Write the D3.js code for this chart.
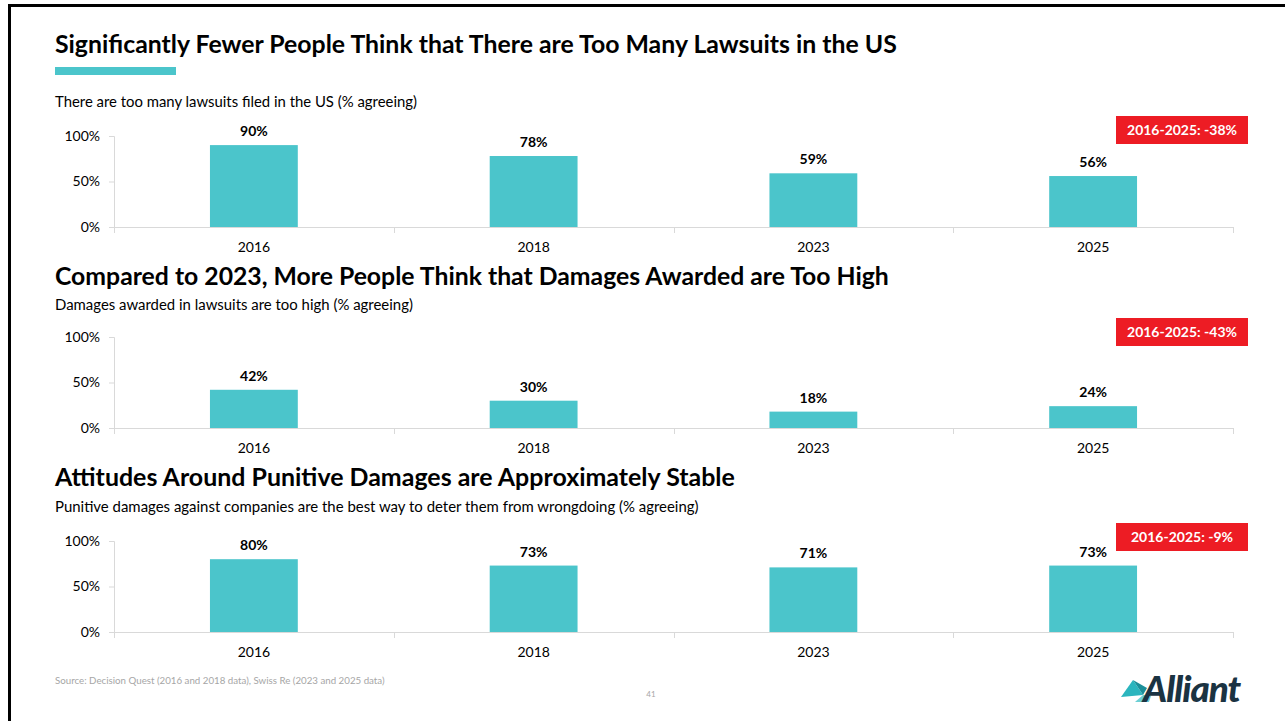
<!DOCTYPE html>
<html>
<head>
<meta charset="utf-8">
<script src="https://cdn.jsdelivr.net/npm/d3@7"></script>
<style>
  html, body { margin: 0; padding: 0; background: #fff; }
  svg { display: block; font-family: Lato, "Open Sans", sans-serif; }
</style>
</head>
<body>
<svg id="chart" width="1285" height="721"></svg>
<script>
// ---- data ----
const years = ["2016", "2018", "2023", "2025"];
const lawsuitsTooMany = [90, 78, 59, 56];
const damagesTooHigh = [42, 30, 18, 24];
const punitiveDeter = [80, 73, 71, 73];
const yTickValues = [0, 50, 100];
const titles = [
  "Significantly Fewer People Think that There are Too Many Lawsuits in the US",
  "Compared to 2023, More People Think that Damages Awarded are Too High",
  "Attitudes Around Punitive Damages are Approximately Stable"
];
const subtitles = [
  "There are too many lawsuits filed in the US (% agreeing)",
  "Damages awarded in lawsuits are too high (% agreeing)",
  "Punitive damages against companies are the best way to deter them from wrongdoing (% agreeing)"
];
const changeLabels = ["2016-2025: -38%", "2016-2025: -43%", "2016-2025: -9%"];
const sourceNote = "Source: Decision Quest (2016 and 2018 data), Swiss Re (2023 and 2025 data)";
const pageNumber = "41";

// ---- layout ----
const TEAL = "#4BC5CB";
const RED = "#ED1C24";
const AXIS = "#D9D9D9";
const svg = d3.select("#chart");

function fitText(sel, target) {
  const n = sel.node();
  const fs = parseFloat(sel.attr("font-size"));
  const w = n.getComputedTextLength();
  if (w > 0) sel.attr("font-size", (fs * target / w).toFixed(2));
}

// frame
svg.append("path").attr("d", "M9.5,725 L9.5,5.5 L1290,5.5")
  .attr("fill", "none").attr("stroke", "#000").attr("stroke-width", 3);

const panels = [
  { data: lawsuitsTooMany, titleY: 53, titleW: 842, rule: true, subY: 107, subW: 362, y0: 227, y100: 136, badgeY: 116, badgeW: 110 },
  { data: damagesTooHigh, titleY: 285, titleW: 834, rule: false, subY: 310, subW: 358, y0: 428, y100: 337, badgeY: 318, badgeW: 110 },
  { data: punitiveDeter, titleY: 486, titleW: 680, rule: false, subY: 512, subW: 644, y0: 632, y100: 541, badgeY: 523, badgeW: 102 }
];

const x = d3.scaleBand().domain(years).range([114, 1233]).paddingInner(0.686).paddingOuter(0.343);

panels.forEach((p, i) => {
  const g = svg.append("g");
  const t = g.append("text").attr("x", 55).attr("y", p.titleY)
    .attr("font-size", 24).attr("font-weight", 700).attr("fill", "#000").text(titles[i]);
  fitText(t, p.titleW);
  if (p.rule) {
    g.append("rect").attr("x", 55).attr("y", 67).attr("width", 121).attr("height", 8).attr("fill", TEAL);
  }
  const s = g.append("text").attr("x", 55).attr("y", p.subY)
    .attr("font-size", 13).attr("fill", "#000").text(subtitles[i]);
  fitText(s, p.subW);

  const y = d3.scaleLinear().domain([0, 100]).range([p.y0, p.y100]);

  // y axis
  const ya = g.append("g").attr("transform", "translate(114,0)")
    .call(d3.axisLeft(y).tickValues(yTickValues).tickFormat(d => d + "%").tickSize(5).tickPadding(9));
  ya.select(".domain").attr("stroke", AXIS).attr("d", `M-5,${p.y100}.5H0.5V${p.y0}.5H-5`);
  ya.selectAll(".tick line").attr("stroke", AXIS);
  ya.selectAll(".tick text").attr("font-size", 14).attr("fill", "#000").attr("font-family", "Lato, sans-serif");

  // x axis
  const xa = g.append("g").attr("transform", `translate(0,${p.y0})`)
    .call(d3.axisBottom(x).tickSize(0).tickPadding(15));
  xa.select(".domain").attr("stroke", AXIS).attr("d", "M114,0.5H1233.5V6");
  xa.selectAll(".tick text").attr("font-size", 14).attr("fill", "#000").attr("font-family", "Lato, sans-serif");
  // category separators
  const step = x.step();
  g.selectAll(".sep").data(d3.range(years.length + 1)).join("line")
    .attr("x1", k => Math.round(114 + k * step) + 0.5).attr("x2", k => Math.round(114 + k * step) + 0.5)
    .attr("y1", p.y0).attr("y2", p.y0 + 6).attr("stroke", AXIS);

  // bars
  g.selectAll(".bar").data(p.data).join("rect")
    .attr("x", (d, k) => x(years[k])).attr("width", x.bandwidth())
    .attr("y", d => y(d)).attr("height", d => y(0) - y(d)).attr("fill", TEAL);
  g.selectAll(".val").data(p.data).join("text")
    .attr("x", (d, k) => x(years[k]) + x.bandwidth() / 2).attr("y", d => y(d) - 9)
    .attr("text-anchor", "middle").attr("font-size", 14).attr("font-weight", 700).attr("fill", "#000")
    .text(d => d + "%");

  // badge
  g.append("rect").attr("x", 1116).attr("y", p.badgeY).attr("width", 132).attr("height", 28).attr("fill", RED);
  const bt = g.append("text").attr("x", 1182).attr("y", p.badgeY + 19).attr("text-anchor", "middle")
    .attr("font-size", 13).attr("font-weight", 700).attr("fill", "#fff").text(changeLabels[i]);
  fitText(bt, p.badgeW);
});

// footer
const src = svg.append("text").attr("x", 55).attr("y", 684).attr("font-size", 8.5).attr("fill", "#A6A6A6").text(sourceNote);
fitText(src, 330);
svg.append("text").attr("x", 651).attr("y", 697).attr("text-anchor", "middle").attr("font-size", 8).attr("fill", "#A6A6A6").text(pageNumber);

// logo
const logo = svg.append("g").attr("transform", "translate(1121,678)");
logo.append("path").attr("d", "M0,19 L22,17 L12,2 Z").attr("fill", "#2BB5BE");
logo.append("path").attr("d", "M12,2 L22,17 L26,10 Z").attr("fill", "#1B8F99");
logo.append("path").attr("d", "M14,24 L22,17 L30,18 L28,24 Z").attr("fill", "#6CCFD4");
const lt = logo.append("text").attr("x", 22).attr("y", 24).attr("font-size", 28).attr("font-weight", 900)
  .attr("font-style", "italic").attr("fill", "#1B3342").attr("letter-spacing", -1).text("Alliant");
fitText(lt, 95);
</script>
</body>
</html>
